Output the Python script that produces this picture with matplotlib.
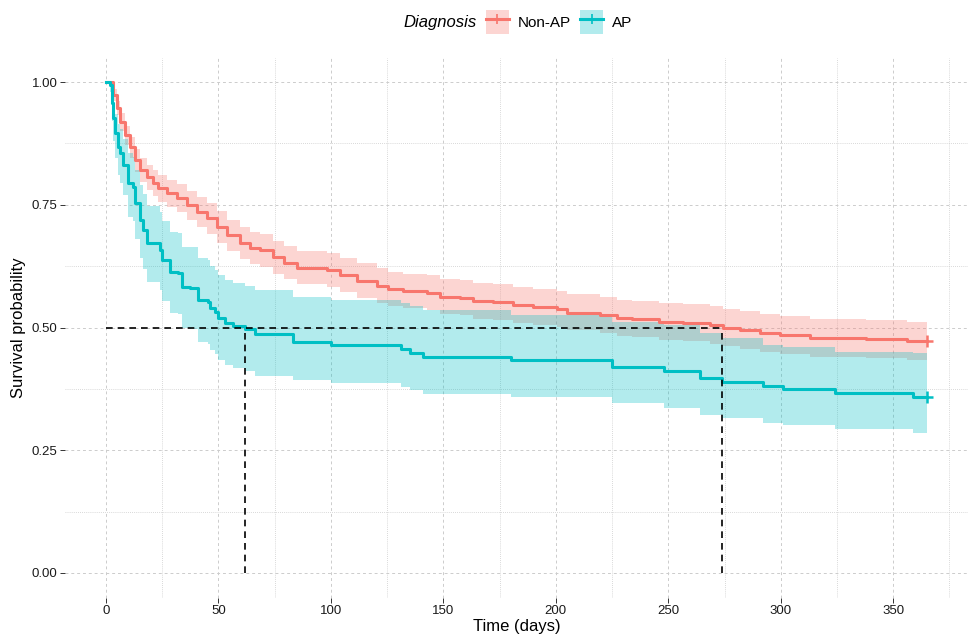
import numpy as np
import matplotlib.pyplot as plt
from matplotlib.patches import Patch
from matplotlib.lines import Line2D
from matplotlib.legend_handler import HandlerTuple

plt.rcParams['font.family'] = ['Liberation Sans', 'DejaVu Sans']

# Non-AP: time, survival, lower CI, upper CI
t_non = [0, 3.1, 4.9, 6.2, 8.4, 10.7, 12.9, 15.1, 18.2, 20.9, 23.1, 27.1, 31.6, 36, 40.4,
         44.9, 49.3, 53.8, 59.6, 64, 68.4, 74.2, 79, 84.9, 98.2, 104, 111.6, 120.4, 125.3,
         132, 142.7, 148.4, 157.3, 163, 172, 181, 189.8, 200.4, 205, 219.6, 227, 234, 246,
         256.4, 268.4, 274.2, 281.8, 290.7, 299.6, 312.9, 323, 338, 356, 365]
s_non = [1, 0.974, 0.947, 0.919, 0.892, 0.868, 0.841, 0.821, 0.807, 0.794, 0.784, 0.774,
         0.764, 0.749, 0.735, 0.723, 0.705, 0.688, 0.672, 0.662, 0.658, 0.643, 0.632, 0.621,
         0.617, 0.607, 0.595, 0.585, 0.578, 0.574, 0.570, 0.562, 0.560, 0.554, 0.552, 0.546,
         0.542, 0.538, 0.530, 0.525, 0.519, 0.517, 0.511, 0.509, 0.505, 0.500, 0.495, 0.489,
         0.485, 0.479, 0.478, 0.477, 0.473, 0.473]
lo_non = [1, 0.962, 0.932, 0.901, 0.872, 0.845, 0.817, 0.796, 0.781, 0.767, 0.756, 0.746,
          0.735, 0.719, 0.704, 0.691, 0.672, 0.655, 0.639, 0.629, 0.624, 0.610, 0.599, 0.588,
          0.583, 0.573, 0.561, 0.550, 0.543, 0.539, 0.535, 0.527, 0.525, 0.518, 0.516, 0.510,
          0.506, 0.502, 0.494, 0.489, 0.482, 0.480, 0.474, 0.472, 0.467, 0.462, 0.457, 0.451,
          0.447, 0.440, 0.439, 0.438, 0.434, 0.434]
hi_non = [1, 0.986, 0.961, 0.936, 0.911, 0.889, 0.864, 0.845, 0.832, 0.820, 0.811, 0.801,
          0.792, 0.778, 0.765, 0.754, 0.737, 0.720, 0.704, 0.694, 0.691, 0.676, 0.666, 0.656,
          0.652, 0.642, 0.631, 0.621, 0.614, 0.610, 0.606, 0.599, 0.597, 0.591, 0.589, 0.583,
          0.579, 0.575, 0.568, 0.563, 0.557, 0.555, 0.549, 0.547, 0.543, 0.538, 0.534, 0.528,
          0.524, 0.518, 0.517, 0.516, 0.512, 0.512]

# AP
t_ap = [0, 1.8, 2.7, 3.1, 4.0, 5.3, 6.2, 7.6, 9.8, 12.0, 12.9, 15.1, 16.4, 18.2, 24.0, 24.9,
        28.4, 32.0, 33.8, 37.3, 40.9, 45.3, 46.2, 48.4, 49.8, 52.9, 56.4, 62.0, 66.2, 83.0,
        100, 131, 135, 141, 180, 225, 248, 264, 274, 292, 301, 324, 359, 365]
s_ap = [1, 0.994, 0.957, 0.927, 0.896, 0.868, 0.855, 0.831, 0.794, 0.786, 0.754, 0.719,
        0.699, 0.672, 0.658, 0.637, 0.613, 0.611, 0.582, 0.580, 0.556, 0.552, 0.540, 0.532,
        0.519, 0.509, 0.503, 0.497, 0.487, 0.470, 0.464, 0.456, 0.448, 0.440, 0.434, 0.420,
        0.411, 0.397, 0.389, 0.381, 0.375, 0.367, 0.358, 0.358]
lo_ap = [1, 0.98, 0.92, 0.88, 0.845, 0.81, 0.795, 0.77, 0.725, 0.717, 0.680, 0.642, 0.620,
         0.592, 0.577, 0.555, 0.530, 0.528, 0.498, 0.496, 0.471, 0.467, 0.455, 0.446, 0.433,
         0.423, 0.417, 0.411, 0.401, 0.393, 0.387, 0.379, 0.373, 0.365, 0.358, 0.346, 0.336,
         0.322, 0.316, 0.305, 0.301, 0.293, 0.285, 0.285]
hi_ap = [1, 1.0, 0.98, 0.96, 0.935, 0.915, 0.905, 0.885, 0.855, 0.848, 0.820, 0.790, 0.772,
         0.748, 0.735, 0.716, 0.694, 0.692, 0.665, 0.663, 0.641, 0.637, 0.626, 0.618, 0.606,
         0.597, 0.591, 0.585, 0.576, 0.562, 0.556, 0.549, 0.543, 0.535, 0.525, 0.511, 0.505,
         0.489, 0.479, 0.464, 0.460, 0.450, 0.448, 0.448]

median_non = 274
median_ap = 62

red = '#F8766D'
teal = '#00BFC4'

fig = plt.figure(figsize=(9.7, 6.37), dpi=100)
ax = fig.add_axes([65 / 970, 39.5 / 637, 903 / 970, 540 / 637])

for t, s, lo, hi, col in [(t_non, s_non, lo_non, hi_non, red), (t_ap, s_ap, lo_ap, hi_ap, teal)]:
    ax.fill_between(t, lo, hi, step='post', color=col, alpha=0.3, linewidth=0)
    ax.step(t, s, where='post', color=col, lw=2.2, zorder=3)
    ax.plot(t[-1], s[-1], marker='+', color=col, ms=9, mew=1.8, zorder=4)

# median lines
ax.plot([0, median_non], [0.5, 0.5], color='black', ls=(0, (4, 3)), lw=1.2, zorder=5)
ax.plot([median_ap, median_ap], [0, 0.5], color='black', ls=(0, (4, 3)), lw=1.2, zorder=5)
ax.plot([median_non, median_non], [0, 0.5], color='black', ls=(0, (4, 3)), lw=1.2, zorder=5)

ax.set_xlim(-18.25, 383.25)
ax.set_ylim(-0.05, 1.05)
ax.set_xticks(np.arange(0, 351, 50))
ax.set_yticks([0, 0.25, 0.5, 0.75, 1.0])
ax.set_yticklabels(['0.00', '0.25', '0.50', '0.75', '1.00'])
ax.set_xticks(np.arange(25, 376, 50), minor=True)
ax.set_yticks([0.125, 0.375, 0.625, 0.875], minor=True)
ax.grid(True, which='major', color='#cccccc', ls=(0, (3, 3)), lw=0.7)
ax.grid(True, which='minor', color='#cccccc', ls=(0, (1, 1.5)), lw=0.6)
ax.set_axisbelow(True)
for sp in ax.spines.values():
    sp.set_visible(False)
ax.tick_params(which='major', length=3.5, width=0.7, color='#333333', labelsize=9.5,
               labelcolor='#1a1a1a', pad=2)
ax.tick_params(which='minor', length=0)
ax.set_xlabel('Time (days)', fontsize=12, labelpad=1)
ax.set_ylabel('Survival probability', fontsize=12, labelpad=4)

# legend on top
fig.text(403 / 970, 1 - 22 / 637, 'Diagnosis', fontsize=12, style='italic', va='center', ha='left')
h_non = (Patch(facecolor=red, alpha=0.3, edgecolor='none'),
         Line2D([], [], color=red, lw=2.2, marker='+', ms=7, mew=1.2))
h_ap = (Patch(facecolor=teal, alpha=0.3, edgecolor='none'),
        Line2D([], [], color=teal, lw=2.2, marker='+', ms=7, mew=1.2))
fig.legend([h_non, h_ap], ['Non-AP', 'AP'], handler_map={tuple: HandlerTuple(ndivide=1, pad=0)},
           loc='center left', bbox_to_anchor=(486 / 970, 1 - 22 / 637), ncol=2, frameon=False,
           fontsize=11, handlelength=1.5, handleheight=1.94, columnspacing=0.6, handletextpad=0.6,
           borderaxespad=0, borderpad=0)

fig.savefig('out.png', dpi=100)
